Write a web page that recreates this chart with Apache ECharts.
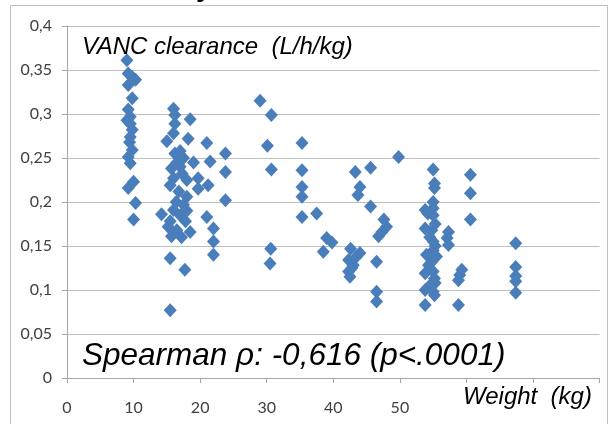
<!DOCTYPE html>
<html>
<head>
<meta charset="utf-8">
<script src="https://cdn.jsdelivr.net/npm/echarts@6.0.0/dist/echarts.min.js"></script>
<style>
html,body{margin:0;padding:0;background:#fff;}
#chart{width:612px;height:424px;}
</style>
</head>
<body>
<div id="chart"></div>
<script>
// Weight (kg) of each patient
var weightKg = [
  9.0, 9.2, 9.8, 10.3, 9.2, 9.8, 9.2, 9.5, 9.5, 9.8, 9.5, 9.8, 9.2, 9.5, 10.0, 9.2, 10.3, 10.0, 9.4, 9.0,
  16.0, 16.2, 18.5, 16.2, 16.0, 15.0, 18.2, 21.0, 16.2, 17.5, 23.8, 21.5, 15.7, 17.0, 23.8, 16.0, 19.7, 18.0, 15.5, 21.2,
  19.7, 18.0, 17.5, 16.0, 14.2, 17.0, 21.0, 15.5, 15.2, 18.5, 22.0, 15.7, 22.0, 22.0, 15.5, 17.7, 15.5, 23.8,
  16.5, 17.3, 16.8, 17.8, 16.5, 17.2, 18.0, 16.4, 19.0, 17.0,
  29.0, 30.7, 30.1, 30.7, 30.6, 30.5,
  35.3, 35.3, 35.3, 35.3, 35.3, 37.5, 39.0, 39.8, 38.5,
  43.3, 45.6, 44.0, 43.7, 49.8, 45.6, 47.6, 47.3, 46.8, 42.6, 44.0, 42.3, 43.0, 42.3, 42.5, 46.5, 46.5, 46.5, 43.5, 42.8, 48.0,
  55.0, 55.2, 55.2, 55.0, 53.8, 55.0, 55.0, 53.8, 54.8, 55.0, 54.0, 55.0, 54.8, 53.8, 55.0, 55.2, 53.8, 55.0, 55.2, 53.8,
  55.3, 54.5, 55.3, 54.3, 55.3, 54.5, 55.5, 54.2,
  57.3, 57.1, 57.3, 59.3, 58.8, 58.8, 60.6, 60.6, 60.6, 59.0,
  67.4, 67.4, 67.4, 67.4, 67.4
];
// VANC clearance (L/h/kg)
var clearance = [
  0.361, 0.346, 0.342, 0.339, 0.333, 0.318, 0.305, 0.297, 0.289, 0.282, 0.274, 0.259, 0.251, 0.244, 0.223, 0.216, 0.199, 0.180, 0.268, 0.293,
  0.306, 0.299, 0.294, 0.289, 0.278, 0.269, 0.272, 0.267, 0.255, 0.250, 0.255, 0.246, 0.238, 0.240, 0.234, 0.227, 0.227, 0.225, 0.219, 0.219,
  0.215, 0.206, 0.197, 0.191, 0.186, 0.185, 0.183, 0.178, 0.172, 0.166, 0.170, 0.161, 0.155, 0.140, 0.136, 0.123, 0.077, 0.202,
  0.245, 0.232, 0.212, 0.178, 0.168, 0.160, 0.190, 0.200, 0.245, 0.258,
  0.315, 0.299, 0.264, 0.237, 0.147, 0.130,
  0.267, 0.236, 0.217, 0.206, 0.183, 0.187, 0.159, 0.154, 0.1435,
  0.234, 0.239, 0.217, 0.208, 0.251, 0.195, 0.180, 0.166, 0.161, 0.147, 0.142, 0.134, 0.128, 0.121, 0.115, 0.132, 0.098, 0.087, 0.138, 0.125, 0.172,
  0.237, 0.221, 0.216, 0.200, 0.191, 0.193, 0.185, 0.170, 0.168, 0.155, 0.140, 0.145, 0.132, 0.119, 0.121, 0.113, 0.100, 0.098, 0.094, 0.083,
  0.175, 0.160, 0.150, 0.128, 0.108, 0.105, 0.138, 0.187,
  0.166, 0.159, 0.151, 0.123, 0.111, 0.083, 0.231, 0.210, 0.180, 0.117,
  0.153, 0.126, 0.116, 0.110, 0.097
];
var xTicks = { min: 0, max: 80, interval: 10, lastLabel: 50 };
var yTicks = { min: 0, max: 0.4, interval: 0.05 };
var yAxisTitle = 'VANC clearance  (L/h/kg)';
var xAxisTitle = 'Weight  (kg)';
var statText = 'Spearman \u03c1: -0,616 (p<.0001)';

var points = weightKg.map(function (w, i) { return [w, clearance[i]]; });

var chart = echarts.init(document.getElementById('chart'), null, { renderer: 'canvas' });
var labelFont = 'Lato';
var italicFont = '"Liberation Sans", Arial, sans-serif';
chart.setOption({
  animation: false,
  backgroundColor: '#ffffff',
  grid: { left: 67, top: 26, right: 12.4, bottom: 46 },
  xAxis: {
    type: 'value',
    min: xTicks.min, max: xTicks.max, interval: xTicks.interval,
    splitLine: { show: false },
    axisLine: { show: true, lineStyle: { color: '#a6a6a6', width: 1 } },
    axisTick: { show: true, length: 5, lineStyle: { color: '#a6a6a6' } },
    axisLabel: {
      margin: 22, fontFamily: labelFont, fontSize: 16, color: '#404040',
      formatter: function (v) { return v <= xTicks.lastLabel ? String(v) : ''; }
    }
  },
  yAxis: {
    type: 'value',
    min: yTicks.min, max: yTicks.max, interval: yTicks.interval,
    splitLine: { show: true, lineStyle: { color: '#bfbfbf', width: 1 } },
    axisLine: { show: true, lineStyle: { color: '#a6a6a6', width: 1 } },
    axisTick: { show: true, length: 5, lineStyle: { color: '#a6a6a6' } },
    axisLabel: {
      margin: 15, fontFamily: labelFont, fontSize: 16, color: '#404040',
      formatter: function (v) { return String(parseFloat(v.toFixed(2))).replace('.', ','); }
    }
  },
  series: [{
    type: 'scatter',
    data: points,
    symbol: 'diamond',
    symbolSize: [13, 14],
    itemStyle: { color: '#4a7ebb', opacity: 1 }
  }],
  graphic: [
    { type: 'rect', shape: { x: 10.5, y: 5.5, width: 597, height: 440 }, style: { fill: 'none', stroke: '#bfbfbf', lineWidth: 1 }, z: 100 },
    { type: 'text', x: 196, y: 2, style: { text: 'y', font: 'bold 28px "Liberation Sans", Arial', fill: '#000', verticalAlign: 'bottom' }, z: 100 },
    { type: 'text', x: 82, y: 47, style: { text: yAxisTitle, font: 'italic 24px ' + italicFont, fill: '#000', verticalAlign: 'middle' }, z: 100 },
    { type: 'text', x: 82, y: 356, style: { text: statText, font: 'italic 31.5px ' + italicFont, fill: '#000', verticalAlign: 'middle' }, z: 100 },
    { type: 'text', x: 463, y: 397, style: { text: xAxisTitle, font: 'italic 24px ' + italicFont, fill: '#000', verticalAlign: 'middle' }, z: 100 }
  ]
});
</script>
</body>
</html>
